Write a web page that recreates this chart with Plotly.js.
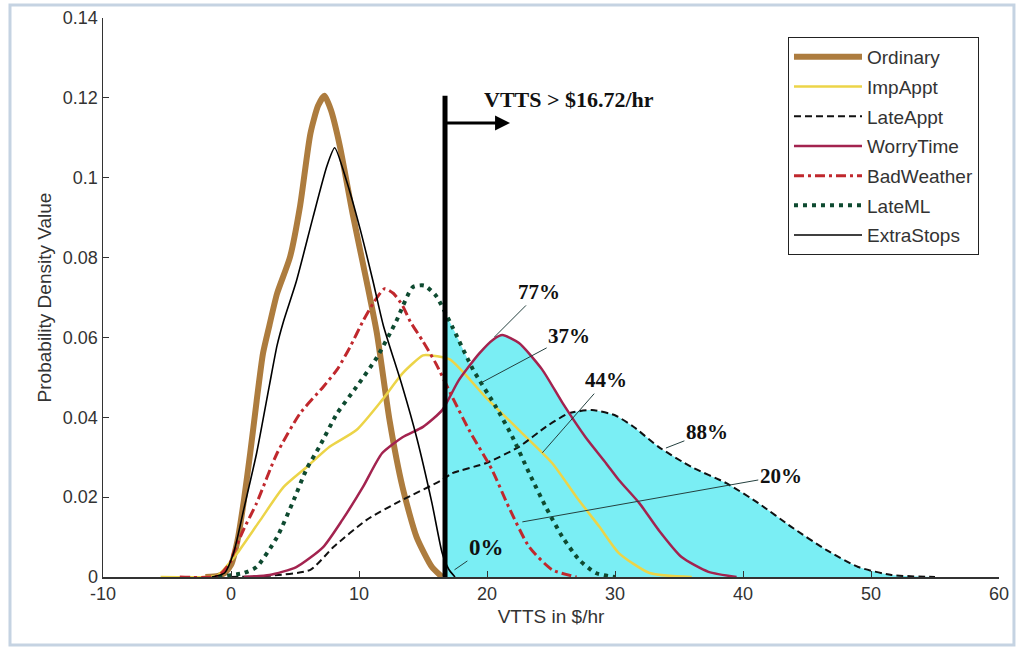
<!DOCTYPE html>
<html>
<head>
<meta charset="utf-8">
<script src="https://cdn.plot.ly/plotly-3.0.1.min.js"></script>
<style>html,body{margin:0;padding:0;background:#fff;}#chart{width:1020px;height:648px;}</style>
</head>
<body>
<div id="chart"></div>
<script>
// ---- data ----
const seriesNames = ['Ordinary','ImpAppt','LateAppt','WorryTime','BadWeather','LateML','ExtraStops'];

const ordinaryX = [-2,-1,-0.5,0,0.5,1,1.5,2,2.5,3,3.6,4.6,5.4,6.2,6.8,7.3,7.8,8.5,9.5,10.6,11.4,12.4,13.4,14.5,15.7,16.5];
const ordinaryY = [0,0.0003,0.001,0.003,0.009,0.019,0.031,0.044,0.056,0.063,0.071,0.080,0.093,0.111,0.118,0.1205,0.117,0.108,0.091,0.074,0.061,0.039,0.0225,0.010,0.0025,0];

const impApptX = [-5.5,-2,-1,0,0.5,2.3,4.1,5.9,7.7,9.8,11.8,13.4,15,15.6,17.1,19.9,22.5,25.1,27,28.8,30.3,32.7,36];
const impApptY = [0,0,0.0005,0.004,0.006,0.0143,0.0225,0.0275,0.0326,0.0368,0.0443,0.051,0.0555,0.0555,0.0545,0.045,0.0368,0.0285,0.020,0.0125,0.006,0.001,0];

const lateApptX = [0,3,6.2,8,10.6,13.2,16.5,17.3,19.9,22.5,24.6,26.4,28.2,30,31.5,33.4,36,38.7,41.2,43.8,46.5,49,51.6,55];
const lateApptY = [0,0.0003,0.0018,0.0075,0.0143,0.019,0.0243,0.026,0.0285,0.0326,0.0376,0.041,0.0418,0.0405,0.0375,0.0326,0.0275,0.0235,0.0185,0.0125,0.0068,0.0025,0.0005,0];

const worryTimeX = [1,3,5.1,7.2,8.7,10.3,11.8,13.4,15,16.5,17.8,19.4,20.5,21.2,22.5,24.3,25.9,27.7,29.3,30.3,31.9,33.4,35.2,37.3,39.5];
const worryTimeY = [0,0.0005,0.0025,0.0075,0.0143,0.0225,0.031,0.035,0.0376,0.0418,0.0493,0.056,0.0595,0.0606,0.0586,0.052,0.0436,0.035,0.0285,0.0243,0.0185,0.0118,0.005,0.0013,0];

const badWeatherX = [-4,-1,0,0.2,1,2,3.6,5.4,7.2,8.3,9.3,10.3,11.2,12,12.7,13.4,14,15,16,17.3,18.6,20.4,21.7,23.3,25.1,27];
const badWeatherY = [0,0.0003,0.004,0.006,0.012,0.0185,0.031,0.041,0.0476,0.052,0.0576,0.064,0.069,0.0722,0.071,0.068,0.064,0.059,0.0535,0.045,0.0368,0.0268,0.0175,0.0075,0.0018,0];

const lateMLX = [-1,1,2,3.6,4.8,5.9,6.9,8.3,9.8,11.4,12.9,14.2,15.1,16,17.3,18.9,20.7,22,23.3,24.6,25.9,27.2,28.5,30];
const lateMLY = [0,0.001,0.0025,0.010,0.0185,0.027,0.0326,0.041,0.0476,0.055,0.064,0.0726,0.073,0.0705,0.0626,0.052,0.0426,0.035,0.026,0.0175,0.010,0.0043,0.001,0];

const extraStopsX = [-1.5,-0.5,0.2,1,2,3,3.6,4.1,5.1,6.4,7.5,8.1,9.0,10.1,11.1,11.9,13.4,14.5,15.7,16.5,17.0,17.5];
const extraStopsY = [0,0.001,0.006,0.017,0.031,0.048,0.058,0.064,0.074,0.090,0.103,0.1075,0.0995,0.087,0.074,0.063,0.0476,0.035,0.0185,0.006,0.002,0];

const vttsCut = 16.72;
const shareLabels = ['77%','37%','44%','88%','20%','0%'];
const xTickVals = [-10,0,10,20,30,40,50,60];
const xTickText = ['-10','0','10','20','30','40','50','60'];

// ---- styles ----
const seriesData = [
  {x: ordinaryX, y: ordinaryY, color: '#ad7c3e', width: 6, dash: 'solid'},
  {x: impApptX, y: impApptY, color: '#ecd448', width: 2.5, dash: 'solid'},
  {x: lateApptX, y: lateApptY, color: '#111111', width: 2, dash: '7px,4px'},
  {x: worryTimeX, y: worryTimeY, color: '#a3234f', width: 2.5, dash: 'solid'},
  {x: badWeatherX, y: badWeatherY, color: '#c0282d', width: 3, dash: '10px,4px,3px,4px'},
  {x: lateMLX, y: lateMLY, color: '#0e4a30', width: 4, dash: '4px,5px'},
  {x: extraStopsX, y: extraStopsY, color: '#000000', width: 1.6, dash: 'solid'}
];

function interp(xs, ys, xv) {
  for (let i = 0; i < xs.length - 1; i++) {
    if (xs[i] <= xv && xs[i+1] >= xv) {
      const t = (xv - xs[i]) / (xs[i+1] - xs[i]);
      return ys[i] + t * (ys[i+1] - ys[i]);
    }
  }
  return 0;
}

const traces = [];
// cyan area beyond the cut (union of the areas under every curve)
seriesData.forEach(s => {
  const fx = [vttsCut], fy = [interp(s.x, s.y, vttsCut)];
  s.x.forEach((xv, i) => { if (xv > vttsCut) { fx.push(xv); fy.push(s.y[i]); } });
  if (fx.length > 1) {
    traces.push({x: fx, y: fy, type: 'scatter', mode: 'lines', fill: 'tozeroy',
      fillcolor: 'rgb(122,238,244)', line: {width: 0, shape: 'spline', smoothing: 0.6},
      showlegend: false, hoverinfo: 'skip'});
  }
});
seriesData.forEach((s, i) => {
  traces.push({x: s.x, y: s.y, type: 'scatter', mode: 'lines', name: seriesNames[i],
    legendgroup: seriesNames[i],
    line: {color: s.color, width: s.width, dash: s.dash, shape: 'spline', smoothing: 0.6}});
});

const serif = 'Liberation Serif, Times New Roman, serif';
const pctPos = [
  {x: 20.58, y: 0.0601, ax: 24.1, ay: 0.0714},
  {x: 19.64, y: 0.0488, ax: 26.42, ay: 0.0604},
  {x: 24.32, y: 0.0311, ax: 29.3, ay: 0.0493},
  {x: 33.98, y: 0.0323, ax: 37.18, ay: 0.0363},
  {x: 22.76, y: 0.0138, ax: 42.95, ay: 0.0253},
  {x: 17.46, y: 0.0018, ax: 19.95, ay: 0.0073}
];
const annotations = pctPos.map((p, i) => ({
  x: p.x, y: p.y, ax: p.ax, ay: p.ay, xref: 'x', yref: 'y', axref: 'x', ayref: 'y',
  text: '<b>' + shareLabels[i] + '</b>', showarrow: true, arrowhead: 0, arrowwidth: 1,
  arrowcolor: '#24403f', standoff: 0,
  font: {family: serif, size: i === 5 ? 23 : 21, color: '#111'}
}));
annotations.push({
  x: 21.8, y: 0.1137, ax: vttsCut, ay: 0.1137, xref: 'x', yref: 'y', axref: 'x', ayref: 'y',
  text: '', showarrow: true, arrowhead: 2, arrowsize: 1, arrowwidth: 3, arrowcolor: '#000', standoff: 0
});
annotations.push({
  x: 26.4, y: 0.1195, xref: 'x', yref: 'y', showarrow: false,
  text: '<b>VTTS &gt; $16.72/hr</b>', font: {family: serif, size: 22, color: '#111'}
});

const layout = {
  width: 1020, height: 648,
  margin: {l: 103, r: 21, t: 18, b: 71},
  paper_bgcolor: '#fff', plot_bgcolor: '#fff',
  font: {family: 'Liberation Sans, Arial, sans-serif', color: '#333'},
  xaxis: {range: [-10, 60], tickvals: xTickVals, ticktext: xTickText, ticks: 'inside', ticklen: 6,
    tickcolor: '#333', showline: true, linecolor: '#333', linewidth: 1.5, showgrid: false, zeroline: false,
    tickfont: {size: 18, color: '#333'},
    title: {text: 'VTTS in $/hr', font: {size: 19, color: '#333'}, standoff: 6}},
  yaxis: {range: [0, 0.14], dtick: 0.02, ticks: 'inside', ticklen: 6, tickcolor: '#333',
    showline: true, linecolor: '#333', linewidth: 1.5, showgrid: false, zeroline: false,
    tickfont: {size: 18, color: '#333'},
    title: {text: 'Probability Density Value', font: {size: 19, color: '#333'}, standoff: 6}},
  legend: {x: 0.7645, y: 0.966, xanchor: 'left', yanchor: 'top', bgcolor: '#fff',
    bordercolor: '#222', borderwidth: 1, font: {size: 19, color: '#333'},
    tracegroupgap: 2, itemwidth: 68},
  shapes: [
    {type: 'line', xref: 'x', yref: 'y', x0: vttsCut, x1: vttsCut, y0: 0, y1: 0.1205,
      line: {color: '#000', width: 5}},
    {type: 'rect', xref: 'paper', yref: 'paper', x0: -0.1038, x1: 1.0167, y0: -0.1216, y1: 1.0233,
      line: {color: '#c5d3e2', width: 3}, layer: 'below'}
  ],
  annotations: annotations,
  showlegend: true
};

Plotly.newPlot('chart', traces, layout, {displayModeBar: false, staticPlot: true});
</script>
</body>
</html>
